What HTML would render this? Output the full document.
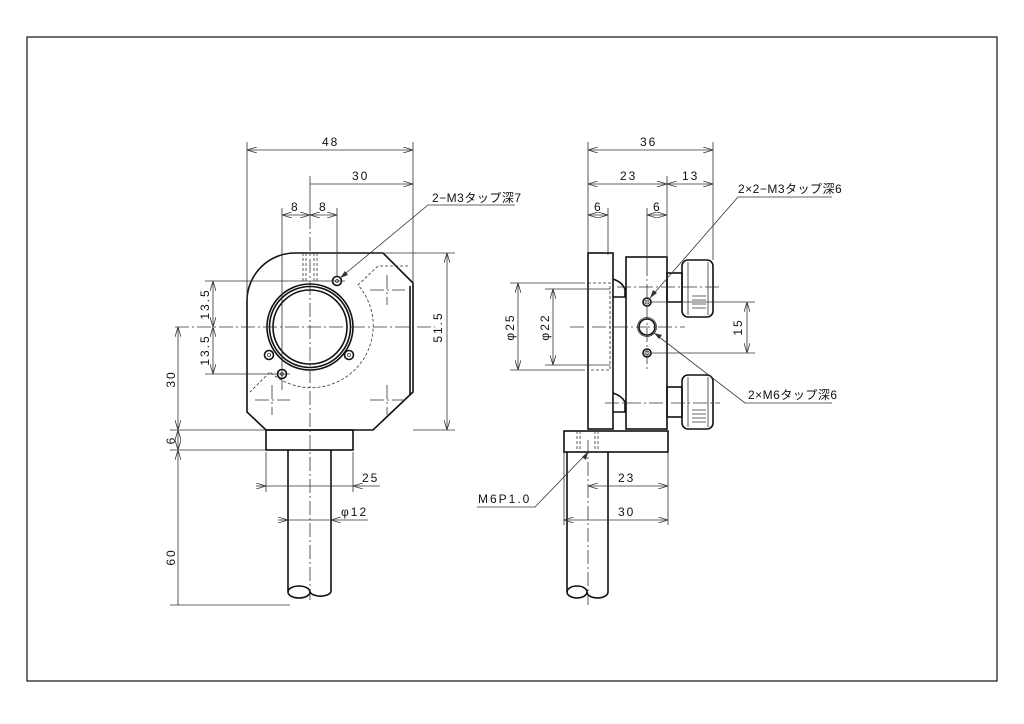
<!DOCTYPE html>
<html><head><meta charset="utf-8"><style>
html,body{margin:0;padding:0;background:#fff;}
svg{display:block;}
text{font-family:"Liberation Sans","Noto Sans CJK JP",sans-serif;font-size:12px;fill:#111;letter-spacing:2px;}
.o{stroke:#111;stroke-width:1.6;fill:none;}
.t{stroke:#333;stroke-width:0.8;fill:none;}
.c{stroke:#333;stroke-width:0.8;fill:none;stroke-dasharray:14 3 2 3;}
.d{stroke:#333;stroke-width:0.8;fill:none;stroke-dasharray:3 2;}
</style></head><body>
<svg width="1024" height="724" viewBox="0 0 1024 724" xmlns="http://www.w3.org/2000/svg">
<defs>
<marker id="a" viewBox="0 0 10 6" refX="10" refY="3" markerWidth="10" markerHeight="6" orient="auto-start-reverse" markerUnits="userSpaceOnUse"><path d="M0,0 L10,3 L0,6" fill="none" stroke="#333" stroke-width="0.8"/></marker>
</defs>
<rect x="27" y="37" width="970" height="644" fill="none" stroke="#111" stroke-width="1.2"/>

<!-- FRONT VIEW -->
<path class="o" d="M295,253 L383,253 L413,283 L413,392 L373,430 L266,430 L247,412 L247,300 A48,48 0 0 1 295,253 Z"/>
<line class="o" x1="410" y1="286" x2="410" y2="395"/>
<circle class="o" cx="310" cy="327" r="43"/>
<circle class="o" cx="310" cy="327" r="40.5"/>
<circle class="o" cx="310" cy="327" r="37"/>
<circle class="o" cx="337" cy="281" r="4.5"/><circle class="t" cx="337" cy="281" r="1.5"/>
<circle class="o" cx="269" cy="355" r="4.5"/><circle class="t" cx="269" cy="355" r="1.5"/>
<circle class="o" cx="349" cy="355" r="4.5"/><circle class="t" cx="349" cy="355" r="1.5"/>
<circle class="o" cx="282" cy="374" r="4.5"/><circle class="t" cx="282" cy="374" r="1.5"/>
<path class="d" d="M303,253 V283 M306,253 V283 M314,253 V283 M317,253 V283"/>
<path class="d" d="M408,266 L378,266 L358,285 A62,62 0 0 1 270,372 L250,392"/>
<line class="c" x1="175" y1="327" x2="435" y2="327"/>
<line class="c" x1="310" y1="215" x2="310" y2="600"/>
<path class="c" d="M370,290 H405 M387,275 V305 M370,400 H405 M387,385 V415 M255,400 H290 M272,385 V415"/>
<!-- base & post -->
<rect class="o" x="266" y="430" width="87" height="20"/>
<path class="o" d="M288,450 V592 M331,450 V592"/>
<ellipse class="o" cx="299" cy="592" rx="11" ry="6"/>
<path class="o" d="M310,592 A11,6 0 0 0 331,592"/>
<!-- front dims -->
<path class="t" d="M247,300 V142 M413,283 V142 M310,215 V176"/>
<line class="t" x1="247" y1="150" x2="413" y2="150" marker-start="url(#a)" marker-end="url(#a)"/>
<text x="322" y="146">48</text>
<line class="t" x1="310" y1="184" x2="413" y2="184" marker-end="url(#a)"/>
<text x="352" y="180">30</text>
<path class="t" d="M282,208 V390 M337,208 V276"/>
<line class="t" x1="282" y1="215" x2="310" y2="215" marker-start="url(#a)" marker-end="url(#a)"/>
<line class="t" x1="310" y1="215" x2="337" y2="215" marker-start="url(#a)" marker-end="url(#a)"/>
<text x="291" y="211">8</text><text x="319" y="211">8</text>
<path class="t" d="M340,278 L428,205 H515"/>
<path d="M340,278 l8,-3 l-3,-4 z" fill="#333"/>
<text x="432" y="202" style="letter-spacing:0.5px">2−M3タップ深7</text>
<path class="t" d="M205,281 H345 M205,374 H290 M170,430 H266 M170,450 H266 M170,605 H290"/>
<line class="t" x1="213" y1="281" x2="213" y2="327" marker-start="url(#a)" marker-end="url(#a)"/>
<line class="t" x1="213" y1="327" x2="213" y2="374" marker-start="url(#a)" marker-end="url(#a)"/>
<text transform="translate(209,304) rotate(-90)" text-anchor="middle">13.5</text>
<text transform="translate(209,350) rotate(-90)" text-anchor="middle">13.5</text>
<line class="t" x1="178" y1="327" x2="178" y2="430" marker-start="url(#a)" marker-end="url(#a)"/>
<line class="t" x1="178" y1="430" x2="178" y2="450" marker-start="url(#a)" marker-end="url(#a)"/>
<line class="t" x1="178" y1="450" x2="178" y2="605" marker-start="url(#a)"/>
<text transform="translate(175,379) rotate(-90)" text-anchor="middle">30</text>
<text transform="translate(175,440) rotate(-90)" text-anchor="middle">6</text>
<text transform="translate(175,557) rotate(-90)" text-anchor="middle">60</text>
<path class="t" d="M380,253 H455 M413,430 H455"/>
<line class="t" x1="447" y1="253" x2="447" y2="430" marker-start="url(#a)" marker-end="url(#a)"/>
<text transform="translate(442,327) rotate(-90)" text-anchor="middle">51.5</text>
<path class="t" d="M266,452 V492 M353,452 V492"/>
<line class="t" x1="256" y1="486" x2="266" y2="486" marker-end="url(#a)"/>
<line class="t" x1="266" y1="486" x2="353" y2="486"/>
<line class="t" x1="380" y1="486" x2="353" y2="486" marker-end="url(#a)"/>
<text x="362" y="482">25</text>
<line class="t" x1="278" y1="520" x2="288" y2="520" marker-end="url(#a)"/>
<line class="t" x1="288" y1="520" x2="331" y2="520"/>
<line class="t" x1="368" y1="520" x2="331" y2="520" marker-end="url(#a)"/>
<text x="341" y="516">φ12</text>

<!-- SIDE VIEW -->
<rect class="o" x="588" y="253" width="25" height="176"/>
<rect class="o" x="626" y="257" width="41" height="172"/>
<path class="o" d="M613,279 Q622,282 625,289 L625,297 L613,297 M613,393 Q622,396 625,402 L625,412 L613,412"/>
<rect class="o" x="667" y="273" width="15" height="29"/>
<rect class="o" x="682" y="260" width="31" height="57" rx="6"/>
<path class="t" d="M688,262 V315 M708,262 V315 M692,296 H706 M692,300 H706 M692,304 H706 M692,308 H706"/>
<rect class="o" x="667" y="387" width="15" height="30"/>
<rect class="o" x="682" y="375" width="31" height="54" rx="6"/>
<path class="t" d="M688,377 V427 M708,377 V427 M692,410 H706 M692,414 H706 M692,418 H706 M692,422 H706"/>
<circle class="o" cx="647" cy="302" r="4"/><circle class="t" cx="647" cy="302" r="2"/>
<circle class="o" cx="647" cy="327" r="8"/><circle class="t" cx="647" cy="327" r="9.5"/>
<circle class="o" cx="647" cy="353" r="4"/><circle class="t" cx="647" cy="353" r="2"/>
<path class="d" d="M588,283 H610 V370 H588"/>
<line class="c" x1="570" y1="327" x2="685" y2="327"/>
<line class="c" x1="617" y1="287" x2="722" y2="287"/>
<line class="c" x1="605" y1="403" x2="720" y2="403"/>
<line class="c" x1="647" y1="262" x2="647" y2="370"/>
<rect class="o" x="564" y="431" width="104" height="21"/>
<path class="d" d="M577,431 V452 M580,431 V452 M595,431 V452 M598,431 V452"/>
<path class="o" d="M567,452 V592 M608,452 V592"/>
<ellipse class="o" cx="577" cy="592" rx="10" ry="6"/>
<path class="o" d="M587,592 A10.5,6 0 0 0 608,592"/>
<line class="c" x1="588" y1="440" x2="588" y2="605"/>
<!-- side dims -->
<path class="t" d="M588,253 V142 M713,260 V142 M667,257 V176 M608,208 V255 M647,208 V262"/>
<line class="t" x1="588" y1="150" x2="713" y2="150" marker-start="url(#a)" marker-end="url(#a)"/>
<text x="640" y="146">36</text>
<line class="t" x1="588" y1="184" x2="667" y2="184" marker-start="url(#a)" marker-end="url(#a)"/>
<line class="t" x1="667" y1="184" x2="713" y2="184" marker-start="url(#a)" marker-end="url(#a)"/>
<text x="620" y="180">23</text><text x="682" y="180">13</text>
<line class="t" x1="588" y1="215" x2="608" y2="215" marker-start="url(#a)" marker-end="url(#a)"/>
<line class="t" x1="647" y1="215" x2="667" y2="215" marker-start="url(#a)" marker-end="url(#a)"/>
<text x="594" y="211">6</text><text x="653" y="211">6</text>
<path class="t" d="M510,283 H585 M510,370 H585 M545,289 H610 M545,365 H610"/>
<line class="t" x1="518" y1="283" x2="518" y2="370" marker-start="url(#a)" marker-end="url(#a)"/>
<line class="t" x1="553" y1="289" x2="553" y2="365" marker-start="url(#a)" marker-end="url(#a)"/>
<text transform="translate(514,327) rotate(-90)" text-anchor="middle">φ25</text>
<text transform="translate(549,327) rotate(-90)" text-anchor="middle">φ22</text>
<path class="t" d="M651,302 H755 M651,353 H755"/>
<line class="t" x1="747" y1="302" x2="747" y2="353" marker-start="url(#a)" marker-end="url(#a)"/>
<text transform="translate(742,327) rotate(-90)" text-anchor="middle">15</text>
<path class="t" d="M650,298 L738,197 H832"/>
<path d="M650,298 l3,-8 l4,3 z" fill="#333"/>
<text x="738" y="193" style="letter-spacing:0.5px">2×2−M3タップ深6</text>
<path class="t" d="M654,333 L745,403 H832"/>
<path d="M654,333 l8,2 l-3,4 z" fill="#333"/>
<text x="748" y="399" style="letter-spacing:0.5px">2×M6タップ深6</text>
<path class="t" d="M588,452 L535,507 H477"/>
<path d="M588,452 l-2,8 l-4,-3 z" fill="#333"/>
<text x="478" y="503">M6P1.0</text>
<path class="t" d="M668,452 V525 M564,452 V525"/>
<line class="t" x1="588" y1="486" x2="668" y2="486" marker-start="url(#a)" marker-end="url(#a)"/>
<line class="t" x1="564" y1="520" x2="668" y2="520" marker-start="url(#a)" marker-end="url(#a)"/>
<text x="618" y="482">23</text><text x="618" y="516">30</text>
</svg>
</body></html>
